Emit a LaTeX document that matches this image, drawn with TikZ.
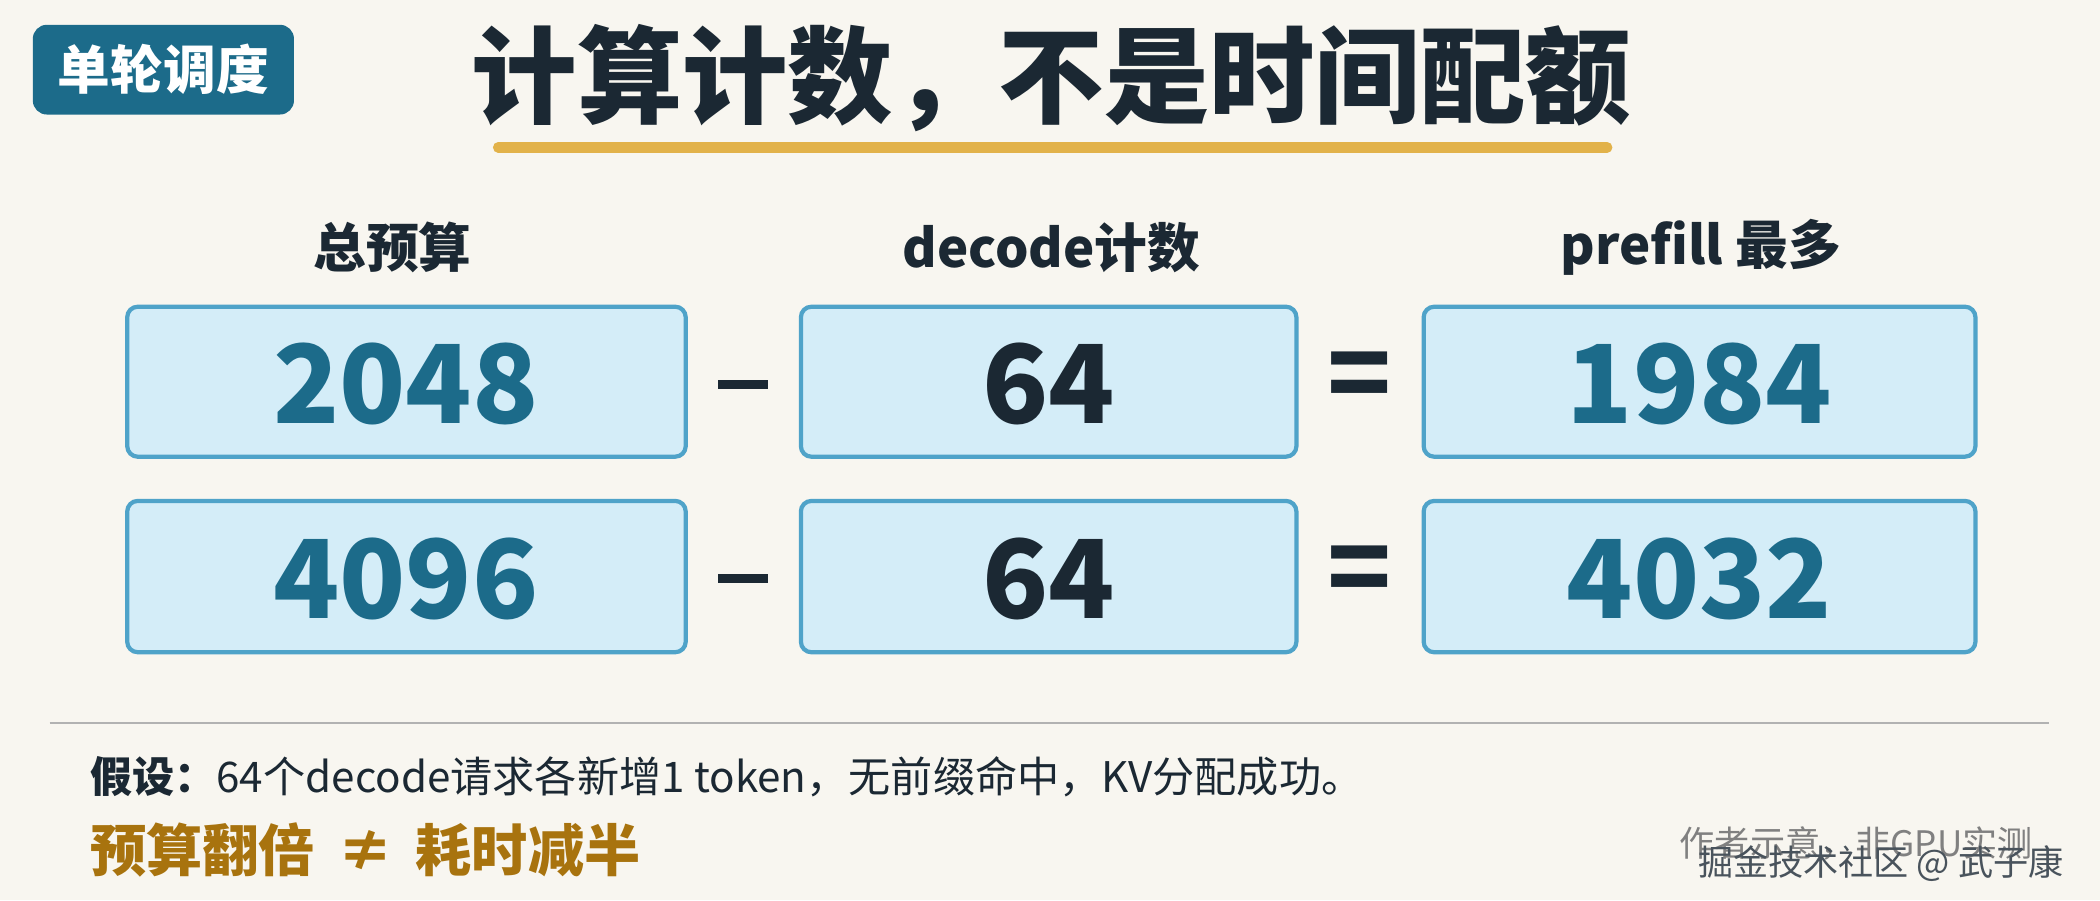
\documentclass[tikz,border=0pt]{standalone}
\usepackage{fontspec}
\setmainfont{Noto Sans CJK SC}
\usepackage{xcolor}
\usetikzlibrary{positioning}
\definecolor{bgc}{HTML}{F8F6F0}
\definecolor{teal}{HTML}{1C6B8A}
\definecolor{boxfill}{HTML}{D4EDF8}
\definecolor{boxline}{HTML}{4FA3C9}
\definecolor{numdark}{HTML}{1B2833}
\definecolor{gold}{HTML}{E2B24A}
\definecolor{brown}{HTML}{A8730E}
\begin{document}
\begin{tikzpicture}[x=0.01339cm,y=-0.01339cm,
  box/.style={draw=boxline, line width=1.2pt, fill=boxfill, rounded corners=3pt},
  num/.style={font=\fontsize{31}{34}\selectfont\bfseries},
  head/.style={font=\fontsize{15}{18}\selectfont\bfseries, text=numdark},
  op/.style={font=\fontsize{30}{34}\selectfont\bfseries, text=numdark}]
\useasboundingbox[fill=bgc] (0,0) rectangle (1568,672);
% tag and title
\node[fill=teal, rounded corners=4pt, text=white, minimum width=195*0.01339cm, minimum height=67*0.01339cm,
  font=\fontsize{15}{18}\selectfont\bfseries] (tag) at (122,52) {单轮调度};
\node[font=\fontsize{30}{36}\selectfont\bfseries, text=numdark] (title) at (785,58) {计算计数，不是时间配额};
\draw[gold, line width=3pt, line cap=round] (372,110) -- (1200,110);
% column heads
\node[head] (h1) at (293,185) {总预算};
\node[head] (h2) at (785,185) {decode计数};
\node[head] (h3) at (1270,185) {prefill 最多};
% row 1
\draw[box] (95,229) rectangle (512,341);
\draw[box] (598,229) rectangle (968,341);
\draw[box] (1063,229) rectangle (1475,341);
\node[num, text=teal] (a1) at (303,287) {2048};
\node[op] (m1) at (555,287) {\rule{0.5cm}{0.09cm}};
\node[num, text=numdark] (b1) at (783,287) {64};
\node[op] (e1) at (1015,285) {=};
\node[num, text=teal] (c1) at (1269,287) {1984};
% row 2
\draw[box] (95,374) rectangle (512,487);
\draw[box] (598,374) rectangle (968,487);
\draw[box] (1063,374) rectangle (1475,487);
\node[num, text=teal] (a2) at (303,432) {4096};
\node[op] (m2) at (555,432) {\rule{0.5cm}{0.09cm}};
\node[num, text=numdark] (b2) at (783,432) {64};
\node[op] (e2) at (1015,430) {=};
\node[num, text=teal] (c2) at (1269,432) {4032};
% notes
\draw[gray!60, line width=0.6pt] (37,540) -- (1530,540);
\node[anchor=west, font=\fontsize{12}{14}\selectfont, text=numdark] (note) at (58,580) {\textbf{假设：}64个decode请求各新增1 token，无前缀命中，KV分配成功。};
\node[anchor=west, font=\fontsize{16}{19}\selectfont\bfseries, text=brown] (warn) at (58,635) {预算翻倍 \,≠\, 耗时减半};
\node[anchor=east, font=\fontsize{10}{12}\selectfont, text=gray] (src) at (1527,630) {作者示意，非GPU实测};
\node[anchor=east, font=\fontsize{10}{12}\selectfont, text=numdark!80] (wm) at (1550,645) {掘金技术社区 @ 武子康};
\end{tikzpicture}
\end{document}
